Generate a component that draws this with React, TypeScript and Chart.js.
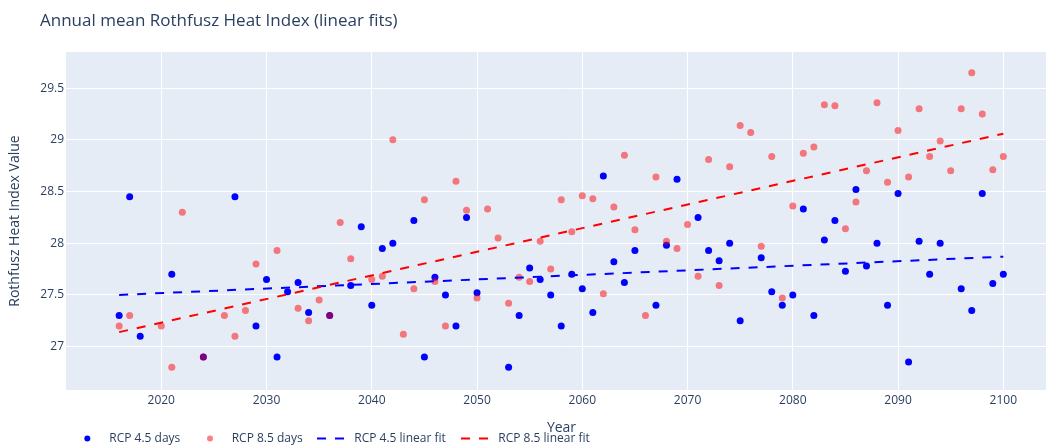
import React, { useEffect, useRef } from "react";
import { Chart, registerables } from "chart.js";

Chart.register(...registerables);

const TITLE = "Annual mean Rothfusz Heat Index (linear fits)";
const X_TITLE = "Year";
const Y_TITLE = "Rothfusz Heat Index Value";
const LEGEND_LABELS = ["RCP 4.5 days", "RCP 8.5 days", "RCP 4.5 linear fit", "RCP 8.5 linear fit"];

const years45 = [
  2016, 2017, 2018, 2021, 2024, 2027, 2029, 2030, 2031, 2032, 2033, 2034, 2036, 2038, 2039, 2040,
  2041, 2042, 2044, 2045, 2046, 2047, 2048, 2049, 2050, 2053, 2054, 2055, 2056, 2057, 2058, 2059,
  2060, 2061, 2062, 2063, 2064, 2065, 2067, 2068, 2069, 2071, 2072, 2073, 2074, 2075, 2077, 2078,
  2079, 2080, 2081, 2082, 2083, 2084, 2085, 2086, 2087, 2088, 2089, 2090, 2091, 2092, 2093, 2094,
  2096, 2097, 2098, 2099, 2100,
];
const values45 = [
  27.3, 28.45, 27.1, 27.7, 26.9, 28.45, 27.2, 27.65, 26.9, 27.53, 27.62, 27.33, 27.3, 27.59, 28.16, 27.4,
  27.95, 28.0, 28.22, 26.9, 27.67, 27.5, 27.2, 28.25, 27.52, 26.8, 27.3, 27.76, 27.65, 27.5, 27.2, 27.7,
  27.56, 27.33, 28.65, 27.82, 27.62, 27.93, 27.4, 27.98, 28.62, 28.25, 27.93, 27.83, 28.0, 27.25, 27.86, 27.53,
  27.4, 27.5, 28.33, 27.3, 28.03, 28.22, 27.73, 28.52, 27.78, 28.0, 27.4, 28.48, 26.85, 28.02, 27.7, 28.0,
  27.56, 27.35, 28.48, 27.61, 27.7,
];

const years85 = [
  2016, 2017, 2020, 2021, 2022, 2024, 2026, 2027, 2028, 2029, 2031, 2033, 2034, 2035, 2036, 2037,
  2038, 2040, 2041, 2042, 2043, 2044, 2045, 2046, 2047, 2048, 2049, 2050, 2051, 2052, 2053, 2054,
  2055, 2056, 2057, 2058, 2059, 2060, 2061, 2062, 2063, 2064, 2065, 2066, 2067, 2068, 2069, 2070,
  2071, 2072, 2073, 2074, 2075, 2076, 2077, 2078, 2079, 2080, 2081, 2082, 2083, 2084, 2085, 2086,
  2087, 2088, 2089, 2090, 2091, 2092, 2093, 2094, 2095, 2096, 2097, 2098, 2099, 2100,
];
const values85 = [
  27.2, 27.3, 27.2, 26.8, 28.3, 26.9, 27.3, 27.1, 27.35, 27.8, 27.93, 27.37, 27.25, 27.45, 27.3, 28.2,
  27.85, 27.65, 27.68, 29.0, 27.12, 27.56, 28.42, 27.63, 27.2, 28.6, 28.32, 27.47, 28.33, 28.05, 27.42, 27.67,
  27.63, 28.02, 27.75, 28.42, 28.11, 28.46, 28.43, 27.51, 28.35, 28.85, 28.13, 27.3, 28.64, 28.02, 27.95, 28.18,
  27.68, 28.81, 27.59, 28.74, 29.14, 29.07, 27.97, 28.84, 27.47, 28.36, 28.87, 28.93, 29.34, 29.33, 28.14, 28.4,
  28.7, 29.36, 28.59, 29.09, 28.64, 29.3, 28.84, 28.99, 28.7, 29.3, 29.65, 29.25, 28.71, 28.84,
];

const fitYears = [2016, 2100];
const fit45 = [27.5, 27.87];
const fit85 = [27.14, 29.06];

const xTickValues = [2020, 2030, 2040, 2050, 2060, 2070, 2080, 2090, 2100];
const yTickValues = [27, 27.5, 28, 28.5, 29, 29.5];

const FONT = "'Open Sans', verdana, arial, sans-serif";
const TEXT = "#2a3f5f";
const BG = "#E5ECF6";

const toPoints = (xs: number[], ys: number[]) => xs.map((x, i) => ({ x, y: ys[i] }));

const decorPlugin = {
  id: "decor",
  beforeDraw(chart: any) {
    const { ctx, chartArea } = chart;
    ctx.save();
    ctx.fillStyle = BG;
    ctx.fillRect(chartArea.left, chartArea.top, chartArea.right - chartArea.left, chartArea.bottom - chartArea.top);
    ctx.restore();
  },
  afterDraw(chart: any) {
    const { ctx } = chart;
    const ds = chart.data.datasets;
    ctx.save();
    // title
    ctx.fillStyle = TEXT;
    ctx.font = `17px ${FONT}`;
    ctx.textBaseline = "middle";
    ctx.textAlign = "left";
    ctx.fillText(TITLE, 40, 21);

    // legend
    const ly = 438.5;
    ctx.font = `12px ${FONT}`;
    // marker items
    const dotItems = [
      { cx: 87.3, tx: 109.3, color: ds[0].backgroundColor, label: LEGEND_LABELS[0] },
      { cx: 210, tx: 231.7, color: ds[1].backgroundColor, label: LEGEND_LABELS[1] },
    ];
    dotItems.forEach((it) => {
      ctx.beginPath();
      ctx.fillStyle = it.color;
      ctx.arc(it.cx, ly, 3, 0, Math.PI * 2);
      ctx.fill();
      ctx.fillStyle = TEXT;
      ctx.fillText(it.label, it.tx, ly);
    });
    const lineItems = [
      { x0: 317, tx: 354.3, color: ds[2].borderColor, label: LEGEND_LABELS[2] },
      { x0: 461, tx: 498.3, color: ds[3].borderColor, label: LEGEND_LABELS[3] },
    ];
    lineItems.forEach((it) => {
      ctx.save();
      ctx.beginPath();
      ctx.strokeStyle = it.color;
      ctx.lineWidth = 2;
      ctx.setLineDash([9, 9]);
      ctx.moveTo(it.x0, ly);
      ctx.lineTo(it.x0 + 28, ly);
      ctx.stroke();
      ctx.restore();
      ctx.fillStyle = TEXT;
      ctx.fillText(it.label, it.tx, ly);
    });
    ctx.restore();
  },
};

export default function App() {
  const ref = useRef<HTMLCanvasElement | null>(null);

  useEffect(() => {
    document.body.style.margin = "0";
    if (!ref.current) return;
    const chart = new Chart(ref.current, {
      type: "scatter",
      data: {
        datasets: [
          {
            label: LEGEND_LABELS[0],
            data: toPoints(years45, values45),
            backgroundColor: "rgb(0,0,255)",
            pointRadius: 3.5,
            pointBorderWidth: 0,
            pointHoverRadius: 3.5,
            order: 4,
          },
          {
            label: LEGEND_LABELS[1],
            data: toPoints(years85, values85),
            backgroundColor: "rgba(255,0,0,0.5)",
            pointRadius: 3.5,
            pointBorderWidth: 0,
            pointHoverRadius: 3.5,
            order: 3,
          },
          {
            label: LEGEND_LABELS[2],
            data: toPoints(fitYears, fit45),
            showLine: true,
            borderColor: "rgb(0,0,255)",
            backgroundColor: "rgb(0,0,255)",
            borderWidth: 2,
            borderDash: [9, 9],
            pointRadius: 0,
            pointHoverRadius: 0,
            order: 2,
          },
          {
            label: LEGEND_LABELS[3],
            data: toPoints(fitYears, fit85),
            showLine: true,
            borderColor: "rgb(255,0,0)",
            backgroundColor: "rgb(255,0,0)",
            borderWidth: 2,
            borderDash: [9, 9],
            pointRadius: 0,
            pointHoverRadius: 0,
            order: 1,
          },
        ],
      },
      options: {
        animation: false,
        responsive: false,
        maintainAspectRatio: false,
        devicePixelRatio: 1,
        layout: { padding: { top: 52, left: 0, right: 43, bottom: 0 } },
        plugins: {
          legend: { display: false },
          title: { display: false },
          tooltip: { enabled: false },
        },
        scales: {
          x: {
            type: "linear",
            min: 2010.95,
            max: 2105.1,
            afterFit: (s: any) => {
              s.height = 55;
            },
            afterBuildTicks: (s: any) => {
              s.ticks = xTickValues.map((v) => ({ value: v }));
            },
            ticks: {
              autoSkip: false,
              maxRotation: 0,
              padding: 3,
              color: TEXT,
              font: { family: FONT, size: 12 },
              callback: (v: any) => String(v),
            },
            grid: { color: "#ffffff", lineWidth: 1, drawTicks: false },
            border: { display: false },
            title: {
              display: true,
              text: X_TITLE,
              color: TEXT,
              font: { family: FONT, size: 14 },
              padding: { top: 0, bottom: 8.5 },
            },
          },
          y: {
            type: "linear",
            min: 26.58,
            max: 29.85,
            afterFit: (s: any) => {
              s.width = 66;
            },
            afterBuildTicks: (s: any) => {
              s.ticks = yTickValues.map((v) => ({ value: v }));
            },
            ticks: {
              padding: 2,
              color: TEXT,
              font: { family: FONT, size: 12 },
              callback: (v: any) => String(v),
            },
            grid: { color: "#ffffff", lineWidth: 1, drawTicks: false },
            border: { display: false },
            title: {
              display: true,
              text: Y_TITLE,
              color: TEXT,
              font: { family: FONT, size: 14 },
              padding: { top: 7, bottom: 0 },
            },
          },
        },
      },
      plugins: [decorPlugin],
    } as any);
    return () => chart.destroy();
  }, []);

  return (
    <div style={{ width: 1046, height: 445, overflow: "hidden", position: "relative", background: "#fff" }}>
      <canvas ref={ref} width={1100} height={445} style={{ width: 1100, height: 445, display: "block" }} />
    </div>
  );
}
